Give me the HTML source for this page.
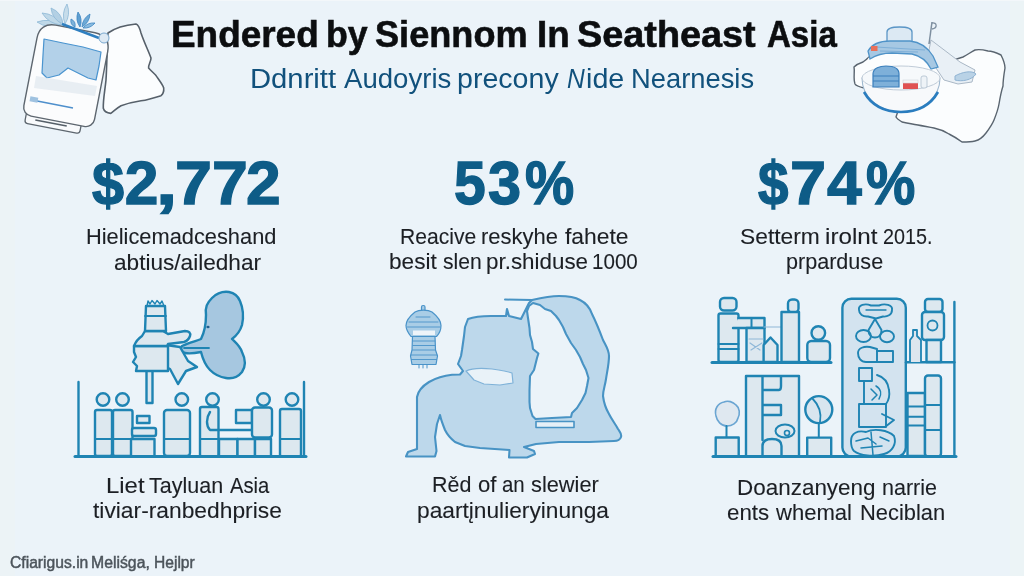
<!DOCTYPE html>
<html><head><meta charset="utf-8"><style>
html,body{margin:0;padding:0;}
body{width:1024px;height:576px;overflow:hidden;position:relative;background:#ebf3f9;font-family:"Liberation Sans",sans-serif;}
.t{position:absolute;white-space:nowrap;transform-origin:0 0;}
#wrap{position:absolute;left:0;top:0;width:1024px;height:576px;filter:blur(0.45px);}
svg{position:absolute;left:0;top:0;}
</style></head><body>
<div id="wrap">
<div style="position:absolute;left:0;top:0;width:15px;height:576px;background:#ecf3f6"></div>
<div style="position:absolute;left:1010px;top:0;width:14px;height:576px;background:#ecf4f6"></div>
<div style="position:absolute;left:0;top:0;width:1024px;height:1px;background:#f3f7fa"></div>
<svg width="1024" height="576" viewBox="0 0 1024 576">
<defs>
<filter id="bl" x="-5%" y="-5%" width="110%" height="110%"><feGaussianBlur stdDeviation="0.5"/></filter>
</defs>
<!-- ===== Top-left illustration ===== -->
<g id="tl">
  <!-- map/cloud shape -->
  <path d="M108,33 C115,28 125,25 136,24 C139,25 140,29 141,33 C144,42 148,50 151,58 C151,62 148,65 148.6,68 C151,71 154,73 156,75.6 C159,80 163,85 163.7,88 C164,91 163,94 161,95.7 C154,98 147,100 141,100.8 C133,102 126,104 121,105.8 C117,108 114,111 110.8,113.4 C107,113 104,111 103.3,108.3 C103,100 105,90 106,80 C107,65 107,45 108,33 Z" fill="#fbfdfe" stroke="#56606a" stroke-width="1.6" stroke-linejoin="round"/>
  <!-- leaves -->
  <path d="M61.0,25.0 Q49.7,17.5 37.0,22.0 Q48.3,29.5 61.0,25.0 Z" fill="#bfd8e8" stroke="#8db8d6" stroke-width="0.8"/>
  <path d="M62.0,25.0 Q55.1,13.9 42.0,13.0 Q48.9,24.1 62.0,25.0 Z" fill="#bfd8e8" stroke="#8db8d6" stroke-width="0.8"/>
  <path d="M63.0,24.0 Q61.8,12.4 51.0,8.0 Q52.2,19.6 63.0,24.0 Z" fill="#b3d0e4" stroke="#8db8d6" stroke-width="0.8"/>
  <path d="M65.0,24.0 Q71.0,14.5 67.0,4.0 Q61.0,13.5 65.0,24.0 Z" fill="#c6dcea" stroke="#8db8d6" stroke-width="0.8"/>
  <path d="M75.0,27.0 Q76.1,21.4 71.0,19.0 Q69.9,24.6 75.0,27.0 Z" fill="#7db2da" stroke="#3b84c0" stroke-width="0.8"/>
  <path d="M80.0,27.0 Q83.0,19.0 78.0,12.0 Q75.0,20.0 80.0,27.0 Z" fill="#5e9fd1" stroke="#3b84c0" stroke-width="0.8"/>
  <path d="M82.0,27.0 Q89.4,22.6 90.0,14.0 Q82.6,18.4 82.0,27.0 Z" fill="#6eaad6" stroke="#3b84c0" stroke-width="0.8"/>
  <path d="M83.0,28.0 Q90.3,28.7 95.0,23.0 Q87.7,22.3 83.0,28.0 Z" fill="#89bbe0" stroke="#3b84c0" stroke-width="0.8"/>
  <!-- device -->
  <g transform="translate(65.5,80) rotate(11)">
    <rect x="-32" y="38" width="56" height="12" rx="3" fill="#f8fafc" stroke="#5d666f" stroke-width="1.3"/>
    <line x1="-22" y1="45" x2="10" y2="45" stroke="#555f68" stroke-width="1.6"/>
    <path d="M-36,-36 C-36,-46 -30,-52 -20,-52 L20,-52 C30,-52 36,-46 36,-36 L36,33 C36,38.5 32,42 27,42 L-27,42 C-32,42 -36,38.5 -36,33 Z" fill="#fbfcfd" stroke="#5d666f" stroke-width="1.4"/>
  </g>
  <path d="M44,39 L63,43 L83,47 L101,52 L99,66 L96,80 L88,78 L78,73 L68,68 L59,75 L47,78 L42,73 L43,55 Z" fill="#b3d1e9" stroke="#4a94cf" stroke-width="1.2" stroke-linejoin="round"/>
  <path d="M36,76 L97,86 L95,96 L34,88 Z" fill="#e3eaf0" opacity="0.8"/>
  <line x1="32" y1="100" x2="73" y2="108" stroke="#4d8fcc" stroke-width="1.6"/>
  <rect x="30" y="97" width="8" height="5" fill="#9fc2e0" transform="rotate(11 34 99)"/>
  <path d="M62,24 L99,38" stroke="#2f7fc0" stroke-width="2.5"/>
  <circle cx="104" cy="38" r="5" fill="#dde9f3" stroke="#7aa9d0" stroke-width="1"/>
</g>

<!-- ===== Top-right illustration ===== -->
<g id="tr">
  <path d="M864,88 C860,87 856,86 855,84 C853,78 855,72 854,67 C857,64 860,63 863,62 C866,60 868,58 869,57 L900,60 L935,66 L963,57 C967,55 971,52 975,50 C980,49 984,50 988,51 C992,51 997,53 1001,55 C1003,59 1005,63 1005,68 C1004,74 1003,80 1003,86 C1001,92 1000,98 999,104 C998,110 996,115 994,120 C992,125 989,129 986,133 C983,137 979,140 975,141 C971,142 966,142 962,142 C958,139 953,136 949,134 C944,131 939,129 934,128 C929,127 923,126 918,125 C912,124 907,123 902,122 C899,120 897,119 896,117 L898,111 L880,105 Z" fill="#fbfdfe" stroke="#5a6570" stroke-width="1.4" stroke-linejoin="round"/>
  <path d="M868,59 L872,52 L930,48 L942,62 L946,78 L864,82 Z" fill="#fbfdfe"/>
  <!-- flag / tissue -->
  <path d="M931,40 L960,62 L975,70 L972,82 L958,84 L944,80 L936,68 L929,50 Z" fill="#e9f0f6" stroke="#aab8c6" stroke-width="1"/>
  <path d="M955,76 C962,72 972,70 976,74 C972,80 962,82 955,80 Z" fill="#b9d2e6" stroke="#8fb3d3" stroke-width="1"/>
  <line x1="932" y1="22" x2="929" y2="44" stroke="#7e8fa0" stroke-width="1.5"/>
  <path d="M932,23 C937,22 938,28 932,29" fill="none" stroke="#7e8fa0" stroke-width="1.3"/>
  <!-- cloth/boat over bowl -->
  <path d="M887,42 L887,32 C887,28.5 891,27 899.5,27 C908,27 912,28.5 912,32 L912,42 Z" fill="#dce9f3" stroke="#5b96c6" stroke-width="1.3"/>
  <path d="M868,51 C872,44 880,41 890,41 L910,41 C920,42 928,48 933,56 L938,67 L931,69 C927,61 921,56 912,54 L892,53 C884,53 876,55 870,59 Z" fill="#a6c8e3" stroke="#4f93c8" stroke-width="1.3"/>
  <path d="M876,47 L925,50 M880,51 L918,52" stroke="#7fb0d8" stroke-width="1" fill="none"/>
  <rect x="871" y="46" width="6.5" height="5" fill="#e8705a"/>
  <!-- bowl -->
  <path d="M862,78 C862,98 880,112 901,112 C922,112 940,98 940,78 Z" fill="#f7f9fb" stroke="#9fb9cf" stroke-width="1.1"/>
  <path d="M864,92 C872,106 886,112 901,112 C916,112 930,106 938,92" fill="none" stroke="#2a7dbf" stroke-width="2.6"/>
  <ellipse cx="901" cy="78" rx="39" ry="12" fill="#f6f9fb" stroke="#c0ccd8" stroke-width="1"/>
  <path d="M873,87 L873,74 C873,68 880,66 886,66 C893,66 899,68 899,74 L899,87 Z" fill="#7eb0d9" stroke="#3a7fbc" stroke-width="1.2"/>
  <line x1="873" y1="76" x2="899" y2="76" stroke="#3a7fbc" stroke-width="1"/>
  <line x1="873" y1="81" x2="899" y2="81" stroke="#3a7fbc" stroke-width="1"/>
  <rect x="903" y="82" width="15" height="7" fill="#e05252"/>
  <rect x="903" y="80" width="15" height="3" fill="#f5f5f5" stroke="#cfd7df" stroke-width="0.6"/>
  <rect x="921" y="76" width="6" height="12" rx="2" fill="#eef3f7" stroke="#aebfce" stroke-width="0.8"/>
</g>

<!-- ===== Left illustration ===== -->
<g id="il1" stroke="#1f84b3" stroke-width="2.4" fill="#dde8ef" stroke-linejoin="round" stroke-linecap="round">
  <!-- elephant blob -->
  <path d="M206,315 C205,307 207,303 212,298 C216,294 222,291 229,292 C234,293 238,296 240,301 C243,308 244,316 242,325 C240,332 236,336 232,339 C236,343 240,346 242,352 C245,358 246,366 242,372 C238,377 232,379 226,378 C219,377 214,374 210,370 C206,366 203,360 201,352 C196,353 190,354 185,353 C181,351 180,349 182,346 C188,343 196,341 201,339 C204,333 206,324 206,315 Z" fill="#a6c7e0"/>
  <path d="M184,348 L209,348" stroke-width="1.8"/>
  <ellipse cx="208" cy="327" rx="1.6" ry="1.2" fill="#1f5f8f" stroke="none"/>
  <!-- pole -->
  <path d="M146.5,371 L146.5,403 L152.5,403 L152.5,371" />
  <!-- star -->
  <path d="M166,345 L180,347 L188,361 L197,367 L186,371 L178,384 L170,369 L166,367 Z"/>
  <!-- lower box -->
  <path d="M134,346 L168,346 L168,371 L136,371 L137,366 L133,362 L136,357 L134,352 Z"/>
  <!-- torso + arm -->
  <path d="M134,346 C136,341 139,338 142,336 L145,331 L163,331 L168,334 L185,331 C189,331 191,333 190,336 C189,339 187,341 184,342 L168,344 L167,346 Z"/>
  <!-- head -->
  <path d="M146,306 L165,306 L166,331 L145,331 Z"/>
  <path d="M147,306 L148,301 L150,304 L152,300.5 L155,304 L157,300.5 L160,304 L162,301 L164,306" stroke-width="1.4" fill="none"/>
  <line x1="145" y1="316" x2="166" y2="316" stroke-width="1.8"/>
  <!-- frame lines -->
  <line x1="78.5" y1="382" x2="78.5" y2="456"/>
  <line x1="304" y1="382" x2="304" y2="456"/>
  <!-- people: bodies -->
  <rect x="95" y="410" width="17" height="46" rx="2"/>
  <rect x="113" y="410" width="19.5" height="46" rx="2"/>
  <rect x="132" y="428" width="24" height="8" rx="2"/>
  <rect x="137" y="416" width="12.5" height="7"/>
  <rect x="131" y="439" width="23.5" height="17.5"/>
  <rect x="164" y="410" width="26" height="46" rx="3"/>
  <rect x="200" y="407" width="18.5" height="49.5" rx="2"/>
  <path d="M210,412 C206,418 206,426 210,430 L270,430" fill="none"/>
  <rect x="236" y="410" width="16" height="13"/>
  <rect x="252" y="407.5" width="20" height="30" rx="3"/>
  <rect x="219" y="439" width="18.5" height="17.5"/>
  <rect x="237.5" y="439" width="17.5" height="17.5"/>
  <rect x="255" y="439" width="16" height="17.5"/>
  <rect x="280" y="409" width="21" height="47.5" rx="2"/>
  <line x1="95" y1="439" x2="112" y2="439" stroke-width="2"/>
  <line x1="113" y1="439" x2="132" y2="439" stroke-width="2"/>
  <line x1="164" y1="439" x2="190" y2="439" stroke-width="2"/>
  <line x1="200" y1="439" x2="218" y2="439" stroke-width="2"/>
  <line x1="280" y1="439" x2="301" y2="439" stroke-width="2"/>
  <!-- heads -->
  <circle cx="103" cy="399.5" r="6.3"/>
  <circle cx="122.5" cy="399.5" r="6.3"/>
  <circle cx="181.8" cy="399.5" r="6.3"/>
  <circle cx="212.5" cy="399.5" r="6.3"/>
  <circle cx="263.5" cy="399.5" r="6.3"/>
  <circle cx="292" cy="399.5" r="6.3"/>
  <!-- baseline -->
  <line x1="75" y1="456.5" x2="306" y2="456.5" stroke-width="3"/>
</g>

<!-- ===== Center illustration ===== -->
<g id="il2" stroke="#4893c4" stroke-width="2.1" stroke-linejoin="round" stroke-linecap="round">
  <!-- lantern -->
  <g stroke="#4a93c9" stroke-width="1.2" fill="#a9cde6">
    <rect x="421.5" y="305.5" width="3.5" height="6" rx="1.5"/>
    <path d="M415,312 C410,316 406,321 406,325.5 C406,330 409,334 411,336.5 L436.5,336.5 C439,334 441,330 441,325.5 C441,321 437,316 432,312 C428,309.5 419,309.5 415,312 Z"/>
    <rect x="413" y="330.5" width="22" height="4.5" fill="#eef4f9" stroke="none"/>
    <path d="M412.5,336.5 L435,336.5 L435.5,350 L437.5,356 L436,364.5 L412,364.5 L410.5,356 L412,350 Z"/>
    <path d="M413,341 L435,341 M413,345.5 L435,345.5 M412.5,350 L435.5,350 M411,355 L437,355 M411.5,359.5 L436.5,359.5 M416,317 L430,317 M409,322 L438,322 M407.5,327 L440,327" stroke-width="0.9"/>
    <path d="M419,364.5 L419,368 M423,364.5 L423,368 M427,364.5 L427,368" stroke-width="1"/>
  </g>
  <!-- main silhouette -->
  <path d="M406,456.5 L408,452 L417,449 L417,397 C418,391 421,387 429,382 C436,378 445,375.5 452,374.8 L460,374.5 L463,371 L458,364 L461,356 L462,350 L464,336 L465,327 L468,319 C476,316 484,316 491,316 L506,316 L507,309 L509,316 L521,319 L526,309 L529,303 L532,300 C545,297 552,296 559,296 C568,296 575,297 580,300 C586,303 590,308 592,314 C596,322 600,332 603,340 C606,346 609,350 609,356 C609,364 607,372 606,379 C605,386 603,390 603,396 C604,404 606,409 609,414 C612,420 616,425 618,429 C620,432 622,434 621,437 C620,440 617,441 614,441 L589,442 L559,442 L536,444 L524,447 L534,451 L535,454 L527,457.5 L509,457.5 L509.5,450 L480,448 L465,446 L455,442 C450,438 447,434 445,430 C443,425 441,420 440,415 L437,424 L435,437 L436.5,451 L435,456.5 Z" fill="#bdd8eb"/>
  <path d="M452,374.8 C440,376 425,380 420,389" fill="none" stroke="none"/>
  <!-- the thin top line extension -->
  <path d="M505,299.5 L532,300" fill="none" stroke-width="2"/>
  <!-- hole -->
  <path d="M529,306 L533,303 L540,305 L545,309 L551,311 L556,316 L559,320 L563,327 L566,334 L571,343 L576,350 L580,357 L583,364 L586,370 L588.5,378 L587,386 L585.5,393 L582,400 L577,408 L572,413 L571,417 L552,418 L535.5,419 L532.5,416 L530,408 L529.5,402 L529.5,390 L530,376 L534,370 L535.5,364 L537,358 L538.4,353.5 L533,349 L532,342 L530,335 L529.5,328 L528,318 L527,311 Z" fill="#ebf3f9"/>
  <!-- strip below hole -->
  <path d="M536,421.5 L574,421.5 L574,427.5 L536,427.5 Z" fill="#e6f0f7" stroke-width="1.6"/>
  <!-- gap between head and body -->
  <path d="M466,371 C472,368 482,368 492,369 C500,370 507,371 512,373 L513,383 L500,385 L484,384 L474,380 Z" fill="#e9f2f8" stroke="#7fb2d8" stroke-width="1.2"/>
</g>

<!-- ===== Right illustration ===== -->
<g id="il3" stroke="#1f84b3" stroke-width="2.4" fill="#dde8ef" stroke-linejoin="round" stroke-linecap="round">
  <!-- upper-left shelf group -->
  <rect x="720" y="298" width="16.5" height="12.5" rx="4"/>
  <rect x="718.5" y="313.5" width="20" height="48.5" rx="2"/>
  <line x1="718.5" y1="344" x2="738.5" y2="344" stroke-width="2"/>
  <line x1="718.5" y1="349" x2="738.5" y2="349" stroke-width="2"/>
  <path d="M738.5,318 L764.5,318 L764.5,328 L733,328" />
  <line x1="751.5" y1="318" x2="751.5" y2="328" stroke-width="2"/>
  <rect x="746.5" y="328" width="18" height="34"/>
  <path d="M764,327 L786,327" stroke="#8fb8d8" stroke-width="1.2"/>
  <path d="M749,339 L763,339 M750,343 L760,350 M751,350 L762,343" stroke="#8fb8d8" stroke-width="1.2" fill="none"/>
  <path d="M763.6,362 L763.6,345 L770.5,337.5 L777.5,345 L777.5,362 Z"/>
  <rect x="788" y="299.5" width="10.5" height="13" rx="4"/>
  <rect x="781.5" y="312" width="17.5" height="50"/>
  <circle cx="818.3" cy="333" r="6.8"/>
  <rect x="807.3" y="341" width="22.7" height="21" rx="4"/>
  <line x1="712" y1="362.5" x2="831" y2="362.5" stroke-width="3"/>
  <!-- lower-left shelf group -->
  <path d="M716,416 C714,409 718,403 724,402 C728,400 733,402 736,405 C740,408 740,414 738,418 C737,423 732,426 727,426 C721,426 717,421 716,416 Z" fill="#dfe8f0" stroke="#6aa5d2" stroke-width="1.6"/>
  <line x1="726.5" y1="426" x2="726.5" y2="437.5" stroke-width="2"/>
  <rect x="715.7" y="437.5" width="23" height="19"/>
  <rect x="746" y="376" width="53" height="80.5"/>
  <path d="M762.5,440 L762.5,377 M762.5,390 L779,390 C781,390 781,388 781,386 L781,377 M762.5,405 L781,405 L781,415 L762.5,415" fill="none"/>
  <path d="M762.5,456.5 L762.5,446 C762.5,441 766,439 772,439 C778,439 781.5,441 781.5,446 L781.5,456.5" />
  <ellipse cx="785" cy="431" rx="9.5" ry="6.5" fill="none" stroke-width="2"/>
  <circle cx="787" cy="433" r="2.5" fill="none" stroke-width="1.6"/>
  <circle cx="818.8" cy="409.6" r="13.5" fill="#d8e5ef"/>
  <path d="M812,398 C818,404 822,412 820,422" fill="none" stroke-width="1.8"/>
  <line x1="818.8" y1="423" x2="818.8" y2="437.6" stroke-width="2"/>
  <rect x="807.2" y="437.6" width="24" height="19"/>
  <!-- capsule -->
  <rect x="842.4" y="298.8" width="63.4" height="157.8" rx="9" fill="#d3e3ef"/>
  <g fill="none" stroke-width="1.9">
    <path d="M859,310 C858,305 865,303 871,305.5 L879,305.5 C885,303 893,305 892,310 C892,315 887,317 883,316.5 L876,318.5 L868,316.5 C863,317 859,314 859,310 Z"/>
    <path d="M866,310 L886,310" stroke-width="1.3"/>
    <path d="M875,319 L868.5,330 C868.5,335 871.5,337.5 875,337.5 C878.5,337.5 881.5,335 881.5,330 Z"/>
    <ellipse cx="863.5" cy="336" rx="7.5" ry="6"/>
    <ellipse cx="887" cy="336.5" rx="7" ry="5.8"/>
    <path d="M858,353 C858,348 864,346 870,347 L877,349 L877,362 L866,362 C861,362 858,358 858,353 Z"/>
    <path d="M877,351 L893,351 L893,362 L877,362"/>
    <path d="M859,368 L872,368 L872,381 L859,381 Z"/>
    <path d="M864,381 L864,404 M877,375 C884,377 888,382 889,390 C890,396 889,400 886,404"/>
    <path d="M859,404 L886,404 L886,427 L859,427 Z"/>
    <path d="M871,389 L877,395 L872,400 M876,386 C881,389 882,394 879,399" stroke-width="1.5"/>
    <path d="M882,414 L894,420 L885,427"/>
    <path d="M851,441 C851,433 858,430 866,432 C874,428 888,430 894,436 C897,444 892,452 884,454 C874,457 860,456 854,451 C851,448 851,445 851,441 Z"/>
    <path d="M856,441 L868,438 L876,444 M861,448 L882,446 M871,432 L873,455 M880,437 L889,441" stroke-width="1.5"/>
  </g>
  <!-- right section -->
  <line x1="954.4" y1="302" x2="954.4" y2="456.5"/>
  <line x1="906" y1="362.2" x2="954.4" y2="362.2"/>
  <rect x="925" y="299" width="17.5" height="13" rx="3"/>
  <rect x="922" y="312" width="22" height="28" rx="3"/>
  <circle cx="932.5" cy="325.5" r="5" fill="none" stroke-width="1.8"/>
  <rect x="926.5" y="340" width="14.5" height="22"/>
  <path d="M910,362 L910,340 L913,336 L913,330 L917,330 L917,336 L921,340 L921,362" fill="#dde6ee" stroke-width="1.8"/>
  <rect x="907.5" y="393" width="17.5" height="63"/>
  <line x1="907.5" y1="406.5" x2="925" y2="406.5" stroke-width="2"/>
  <line x1="907.5" y1="416.8" x2="925" y2="416.8" stroke-width="2"/>
  <line x1="907.5" y1="425.6" x2="925" y2="425.6" stroke-width="2"/>
  <rect x="925" y="375.5" width="16" height="81" rx="3"/>
  <line x1="925" y1="405" x2="941" y2="405" stroke-width="2"/>
  <line x1="925" y1="430" x2="941" y2="430" stroke-width="2"/>
  <line x1="713" y1="456.6" x2="956" y2="456.6" stroke-width="3"/>
</g>
</svg>
<div class="t" style="left:170.66px;top:17.00px;font-size:36.2px;line-height:36.2px;font-weight:bold;color:#0c0e10;transform:scaleX(1.0200);-webkit-text-stroke:0.6px #0c0e10;">Endered</div>
<div class="t" style="left:325.73px;top:17.00px;font-size:36.2px;line-height:36.2px;font-weight:bold;color:#0c0e10;transform:scaleX(0.9849);-webkit-text-stroke:0.6px #0c0e10;">by</div>
<div class="t" style="left:374.70px;top:17.00px;font-size:36.2px;line-height:36.2px;font-weight:bold;color:#0c0e10;transform:scaleX(0.9985);-webkit-text-stroke:0.6px #0c0e10;">Siennom</div>
<div class="t" style="left:536.77px;top:17.00px;font-size:36.2px;line-height:36.2px;font-weight:bold;color:#0c0e10;transform:scaleX(1.0159);-webkit-text-stroke:0.6px #0c0e10;">In</div>
<div class="t" style="left:577.35px;top:17.00px;font-size:36.2px;line-height:36.2px;font-weight:bold;color:#0c0e10;transform:scaleX(1.0452);-webkit-text-stroke:0.6px #0c0e10;">Seatheast</div>
<div class="t" style="left:766.60px;top:17.00px;font-size:36.2px;line-height:36.2px;font-weight:bold;color:#0c0e10;transform:scaleX(0.9132);-webkit-text-stroke:0.6px #0c0e10;">Asia</div>
<div class="t" style="left:249.86px;top:64.60px;font-size:27.3px;line-height:27.3px;font-weight:normal;color:#11517c;transform:scaleX(1.0709);-webkit-text-stroke:0.0px #11517c;">Ddnritt</div>
<div class="t" style="left:344.30px;top:64.60px;font-size:27.3px;line-height:27.3px;font-weight:normal;color:#11517c;transform:scaleX(1.0109);-webkit-text-stroke:0.0px #11517c;">Audoyris</div>
<div class="t" style="left:456.95px;top:64.60px;font-size:27.3px;line-height:27.3px;font-weight:normal;color:#11517c;transform:scaleX(1.0470);-webkit-text-stroke:0.0px #11517c;">precony</div>
<div class="t" style="left:567.00px;top:64.60px;font-size:27.3px;line-height:27.3px;font-weight:normal;color:#11517c;transform:scaleX(0.9000);-webkit-text-stroke:0.0px #11517c;font-style:italic;">N</div>
<div class="t" style="left:585.95px;top:64.60px;font-size:27.3px;line-height:27.3px;font-weight:normal;color:#11517c;transform:scaleX(1.0512);-webkit-text-stroke:0.0px #11517c;">ide</div>
<div class="t" style="left:630.70px;top:64.60px;font-size:27.3px;line-height:27.3px;font-weight:normal;color:#11517c;transform:scaleX(1.0013);-webkit-text-stroke:0.0px #11517c;">Nearnesis</div>
<div class="t" style="left:91.90px;top:152.70px;font-size:60.5px;line-height:60.5px;font-weight:bold;color:#0e5c87;transform:scaleX(0.9530);-webkit-text-stroke:1.3px #0e5c87;">$</div>
<div class="t" style="left:124.65px;top:152.70px;font-size:60.5px;line-height:60.5px;font-weight:bold;color:#0e5c87;transform:scaleX(1.0000);-webkit-text-stroke:1.3px #0e5c87;">2</div>
<div class="t" style="left:155.78px;top:152.70px;font-size:60.5px;line-height:60.5px;font-weight:bold;color:#0e5c87;transform:scaleX(1.2667);-webkit-text-stroke:1.3px #0e5c87;">,</div>
<div class="t" style="left:175.25px;top:152.70px;font-size:60.5px;line-height:60.5px;font-weight:bold;color:#0e5c87;transform:scaleX(1.1000);-webkit-text-stroke:1.3px #0e5c87;">7</div>
<div class="t" style="left:211.52px;top:152.70px;font-size:60.5px;line-height:60.5px;font-weight:bold;color:#0e5c87;transform:scaleX(1.0655);-webkit-text-stroke:1.3px #0e5c87;">7</div>
<div class="t" style="left:245.69px;top:152.70px;font-size:60.5px;line-height:60.5px;font-weight:bold;color:#0e5c87;transform:scaleX(1.0300);-webkit-text-stroke:1.3px #0e5c87;">2</div>
<div class="t" style="left:453.51px;top:152.60px;font-size:60.5px;line-height:60.5px;font-weight:bold;color:#0e5c87;transform:scaleX(0.9419);-webkit-text-stroke:1.3px #0e5c87;">5</div>
<div class="t" style="left:488.37px;top:152.60px;font-size:60.5px;line-height:60.5px;font-weight:bold;color:#0e5c87;transform:scaleX(0.9839);-webkit-text-stroke:1.3px #0e5c87;">3</div>
<div class="t" style="left:524.63px;top:152.60px;font-size:60.5px;line-height:60.5px;font-weight:bold;color:#0e5c87;transform:scaleX(0.9154);-webkit-text-stroke:1.3px #0e5c87;">%</div>
<div class="t" style="left:757.65px;top:152.80px;font-size:60.5px;line-height:60.5px;font-weight:bold;color:#0e5c87;transform:scaleX(0.9061);-webkit-text-stroke:1.3px #0e5c87;">$</div>
<div class="t" style="left:790.01px;top:152.80px;font-size:60.5px;line-height:60.5px;font-weight:bold;color:#0e5c87;transform:scaleX(1.0724);-webkit-text-stroke:1.3px #0e5c87;">7</div>
<div class="t" style="left:827.05px;top:152.80px;font-size:60.5px;line-height:60.5px;font-weight:bold;color:#0e5c87;transform:scaleX(1.0353);-webkit-text-stroke:1.3px #0e5c87;">4</div>
<div class="t" style="left:865.93px;top:152.80px;font-size:60.5px;line-height:60.5px;font-weight:bold;color:#0e5c87;transform:scaleX(0.9173);-webkit-text-stroke:1.3px #0e5c87;">%</div>
<div class="t" style="left:86.03px;top:227.30px;font-size:21.3px;line-height:21.3px;font-weight:normal;color:#1c1f24;transform:scaleX(1.0244);-webkit-text-stroke:0.1px #1c1f24;">Hielicemadceshand</div>
<div class="t" style="left:113.65px;top:252.50px;font-size:21.3px;line-height:21.3px;font-weight:normal;color:#1c1f24;transform:scaleX(1.0612);-webkit-text-stroke:0.1px #1c1f24;">abtius/ailedhar</div>
<div class="t" style="left:400.46px;top:226.60px;font-size:21.3px;line-height:21.3px;font-weight:normal;color:#1c1f24;transform:scaleX(0.9907);-webkit-text-stroke:0.1px #1c1f24;">Reacive</div>
<div class="t" style="left:481.32px;top:226.60px;font-size:21.3px;line-height:21.3px;font-weight:normal;color:#1c1f24;transform:scaleX(1.0326);-webkit-text-stroke:0.1px #1c1f24;">reskyhe</div>
<div class="t" style="left:564.55px;top:226.60px;font-size:21.3px;line-height:21.3px;font-weight:normal;color:#1c1f24;transform:scaleX(1.0725);-webkit-text-stroke:0.1px #1c1f24;">fahete</div>
<div class="t" style="left:389.09px;top:251.80px;font-size:21.3px;line-height:21.3px;font-weight:normal;color:#1c1f24;transform:scaleX(1.0620);-webkit-text-stroke:0.1px #1c1f24;">besit</div>
<div class="t" style="left:442.85px;top:251.80px;font-size:21.3px;line-height:21.3px;font-weight:normal;color:#1c1f24;transform:scaleX(0.9915);-webkit-text-stroke:0.1px #1c1f24;">slen</div>
<div class="t" style="left:485.60px;top:251.80px;font-size:21.3px;line-height:21.3px;font-weight:normal;color:#1c1f24;transform:scaleX(1.0510);-webkit-text-stroke:0.1px #1c1f24;">pr.shiduse</div>
<div class="t" style="left:591.58px;top:251.80px;font-size:21.3px;line-height:21.3px;font-weight:normal;color:#1c1f24;transform:scaleX(0.9671);-webkit-text-stroke:0.1px #1c1f24;">1000</div>
<div class="t" style="left:740.35px;top:226.60px;font-size:21.3px;line-height:21.3px;font-weight:normal;color:#1c1f24;transform:scaleX(1.0702);-webkit-text-stroke:0.1px #1c1f24;">Setterm</div>
<div class="t" style="left:825.21px;top:226.60px;font-size:21.3px;line-height:21.3px;font-weight:normal;color:#1c1f24;transform:scaleX(1.1361);-webkit-text-stroke:0.1px #1c1f24;">irolnt</div>
<div class="t" style="left:882.62px;top:226.60px;font-size:21.3px;line-height:21.3px;font-weight:normal;color:#1c1f24;transform:scaleX(0.9290);-webkit-text-stroke:0.1px #1c1f24;">2015.</div>
<div class="t" style="left:786.44px;top:251.80px;font-size:21.3px;line-height:21.3px;font-weight:normal;color:#1c1f24;transform:scaleX(1.0132);-webkit-text-stroke:0.1px #1c1f24;">prparduse</div>
<div class="t" style="left:106.23px;top:475.80px;font-size:21.3px;line-height:21.3px;font-weight:normal;color:#1c1f24;transform:scaleX(1.1221);-webkit-text-stroke:0.1px #1c1f24;">Liet</div>
<div class="t" style="left:149.35px;top:475.80px;font-size:21.3px;line-height:21.3px;font-weight:normal;color:#1c1f24;transform:scaleX(1.0102);-webkit-text-stroke:0.1px #1c1f24;">Tayluan</div>
<div class="t" style="left:230.05px;top:475.80px;font-size:21.3px;line-height:21.3px;font-weight:normal;color:#1c1f24;transform:scaleX(0.9499);-webkit-text-stroke:0.1px #1c1f24;">Asia</div>
<div class="t" style="left:92.95px;top:500.80px;font-size:21.3px;line-height:21.3px;font-weight:normal;color:#1c1f24;transform:scaleX(1.0705);-webkit-text-stroke:0.1px #1c1f24;">tiviar-ranbedhprise</div>
<div class="t" style="left:431.94px;top:475.30px;font-size:21.3px;line-height:21.3px;font-weight:normal;color:#1c1f24;transform:scaleX(1.0074);-webkit-text-stroke:0.1px #1c1f24;">Rěd</div>
<div class="t" style="left:477.85px;top:475.30px;font-size:21.3px;line-height:21.3px;font-weight:normal;color:#1c1f24;transform:scaleX(1.0367);-webkit-text-stroke:0.1px #1c1f24;">of</div>
<div class="t" style="left:502.25px;top:475.30px;font-size:21.3px;line-height:21.3px;font-weight:normal;color:#1c1f24;transform:scaleX(0.9587);-webkit-text-stroke:0.1px #1c1f24;">an</div>
<div class="t" style="left:530.95px;top:475.30px;font-size:21.3px;line-height:21.3px;font-weight:normal;color:#1c1f24;transform:scaleX(1.0230);-webkit-text-stroke:0.1px #1c1f24;">slewier</div>
<div class="t" style="left:417.28px;top:500.50px;font-size:21.3px;line-height:21.3px;font-weight:normal;color:#1c1f24;transform:scaleX(1.0669);-webkit-text-stroke:0.1px #1c1f24;">paartįnulieryinunga</div>
<div class="t" style="left:737.00px;top:477.50px;font-size:21.3px;line-height:21.3px;font-weight:normal;color:#1c1f24;transform:scaleX(1.0541);-webkit-text-stroke:0.1px #1c1f24;">Doanzanyeng</div>
<div class="t" style="left:881.84px;top:477.50px;font-size:21.3px;line-height:21.3px;font-weight:normal;color:#1c1f24;transform:scaleX(1.0094);-webkit-text-stroke:0.1px #1c1f24;">narrie</div>
<div class="t" style="left:726.75px;top:503.20px;font-size:21.3px;line-height:21.3px;font-weight:normal;color:#1c1f24;transform:scaleX(1.0478);-webkit-text-stroke:0.1px #1c1f24;">ents</div>
<div class="t" style="left:776.39px;top:503.20px;font-size:21.3px;line-height:21.3px;font-weight:normal;color:#1c1f24;transform:scaleX(1.0359);-webkit-text-stroke:0.1px #1c1f24;">whemal</div>
<div class="t" style="left:860.02px;top:503.20px;font-size:21.3px;line-height:21.3px;font-weight:normal;color:#1c1f24;transform:scaleX(1.0269);-webkit-text-stroke:0.1px #1c1f24;">Neciblan</div>
<div class="t" style="left:9.62px;top:555.30px;font-size:15.6px;line-height:15.6px;font-weight:normal;color:#4c545b;transform:scaleX(1.0042);-webkit-text-stroke:0.45px #4c545b;">Cfiarigus.in</div>
<div class="t" style="left:91.11px;top:555.30px;font-size:15.6px;line-height:15.6px;font-weight:normal;color:#4c545b;transform:scaleX(1.0129);-webkit-text-stroke:0.45px #4c545b;">Meliśga,</div>
<div class="t" style="left:154.42px;top:555.30px;font-size:15.6px;line-height:15.6px;font-weight:normal;color:#4c545b;transform:scaleX(1.0004);-webkit-text-stroke:0.45px #4c545b;">Hejlpr</div>
</div>
</body></html>
